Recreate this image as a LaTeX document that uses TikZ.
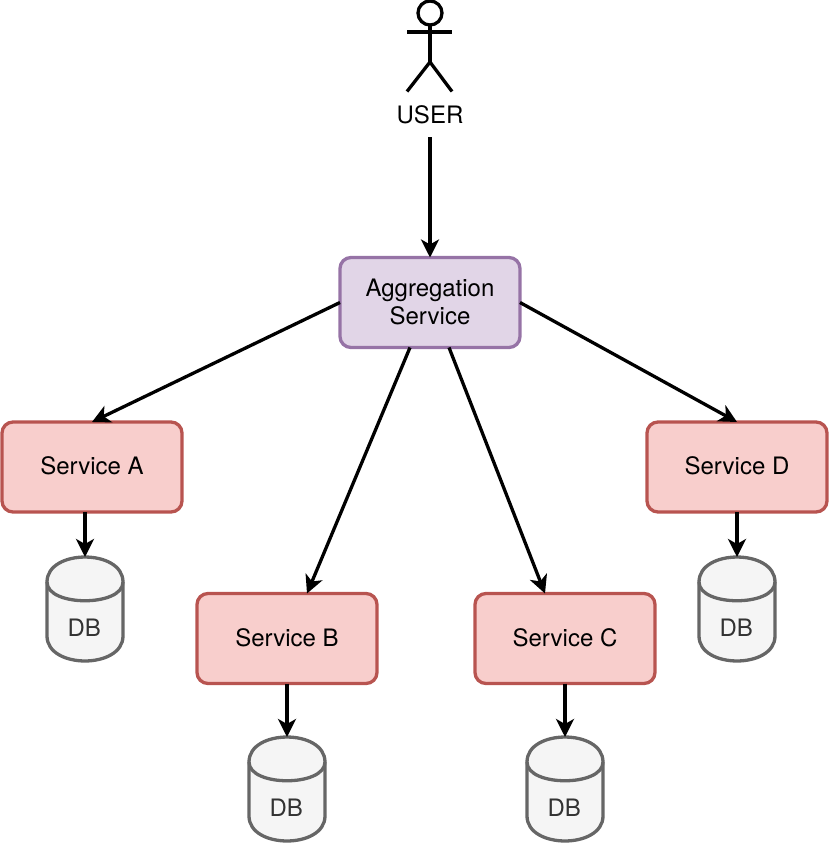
\documentclass[tikz,border=0pt]{standalone}
\usepackage{fontspec}
\setmainfont{TeX Gyre Heros}
\usetikzlibrary{arrows.meta}
\definecolor{redfill}{HTML}{F8CECC}
\definecolor{redline}{HTML}{B85450}
\definecolor{purfill}{HTML}{E1D5E7}
\definecolor{purline}{HTML}{9673A6}
\definecolor{dbfill}{HTML}{F5F5F5}
\definecolor{dbline}{HTML}{666666}
\definecolor{dbtext}{HTML}{333333}
\tikzset{
  x=1pt,y=-1pt,
  every node/.style={font=\fontsize{24}{27.6}\selectfont,text=black,align=center,inner sep=0pt,outer sep=0pt},
  box/.style={draw,rectangle,rounded corners=11pt,line width=3.3pt,minimum width=180pt,minimum height=90pt,text depth=2pt},
  svc/.style={box,draw=redline,fill=redfill},
  agg/.style={box,draw=purline,fill=purfill},
  conn/.style={line width=3.3pt,black,-{Stealth[length=18pt,width=18pt,inset=5pt]}},
  stick/.style={line width=3.3pt,black},
  cyl/.style={draw=dbline,fill=dbfill,line width=3.3pt},
  dbanchor/.style={rectangle,minimum width=76pt,minimum height=104pt},
  dblabel/.style={text=dbtext},
}
\newcommand{\dbcyl}[3]{%
  \node[dbanchor] (#3) at (#1,#2) {};
  \draw[cyl] (#3.north west) ++(0,25)
    .. controls +(0,-33.3) and +(0,-33.3) .. ++(76,0)
    -- ++(0,54)
    .. controls +(0,33.3) and +(0,33.3) .. ++(-76,0)
    -- cycle;
  \draw[cyl,fill=none] (#3.north west) ++(0,25)
    .. controls +(0,25) and +(0,25) .. ++(76,0);
  \node[dblabel] (#3label) at (#1-0.7,#2+19) {DB};
}
\begin{document}
\begin{tikzpicture}
\useasboundingbox (0,0) rectangle (828,843);
% user
\draw[stick] (430,13) circle (12);
\draw[stick] (430,25) -- (430,62);
\draw[stick] (407,32) -- (452,32);
\draw[stick] (407,91.5) -- (430,62) -- (452,91.5);
\node[minimum height=44pt,minimum width=70pt] (user) at (430,115) {USER};
% boxes
\node[agg] (aggr) at (430,302.5) {Aggregation\\Service};
\node[svc] (sa) at (92,467) {Service A};
\node[svc] (sb) at (287,638.5) {Service B};
\node[svc] (sc) at (565,638.5) {Service C};
\node[svc] (sd) at (737,467) {Service D};
% databases
\dbcyl{85}{609}{da}
\dbcyl{737}{609}{dd}
\dbcyl{287}{789}{db}
\dbcyl{565}{789}{dc}
% connectors
\draw[conn] (user.south) -- (aggr.north);
\draw[conn] (aggr.west) -- (sa.north);
\draw[conn] ([xshift=-20pt]aggr.south) -- ([xshift=20pt]sb.north);
\draw[conn] ([xshift=19pt]aggr.south) -- ([xshift=-20pt]sc.north);
\draw[conn] (aggr.east) -- (sd.north);
\draw[conn] ([xshift=-7pt]sa.south) -- (da.north);
\draw[conn] (sb.south) -- (db.north);
\draw[conn] (sc.south) -- (dc.north);
\draw[conn] (sd.south) -- (dd.north);
\end{tikzpicture}
\end{document}
